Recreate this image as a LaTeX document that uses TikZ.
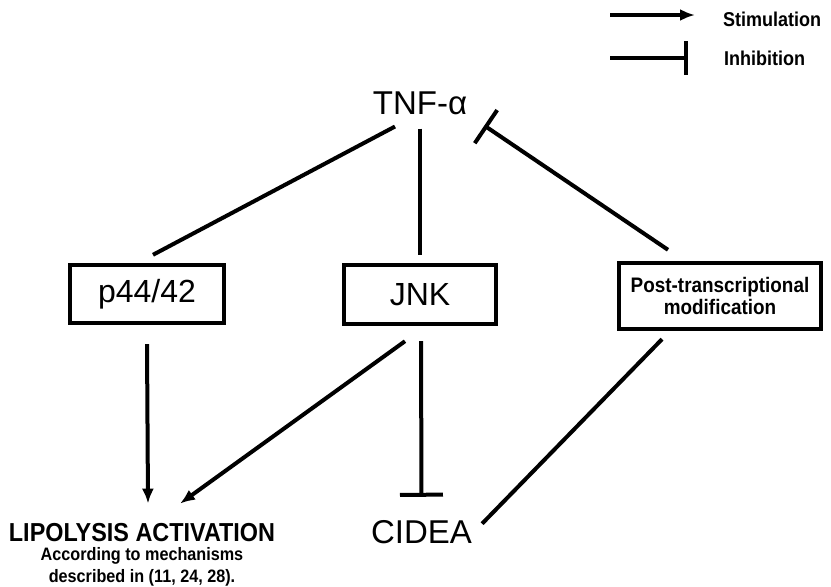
\documentclass[tikz,border=0pt]{standalone}
\usepackage{fontspec}
\setmainfont{Liberation Sans}
\newfontfamily\condfont[FakeStretch=0.9]{Liberation Sans}
\usetikzlibrary{arrows.meta,calc}
\begin{document}
\begin{tikzpicture}[x=1pt,y=-1pt,
  box/.style={draw, line width=4.4pt, inner sep=0pt, font=\fontsize{32}{34}\selectfont},
  lbl/.style={inner sep=0pt, anchor=base},
  link/.style={line width=4pt},
  stim/.style={link, -{Latex[length=15pt,width=12pt]}},
  inhib/.style={link, -{Bar[width=#1]}}]
\useasboundingbox (0,0) rectangle (831,587);

% legend
\node[lbl, anchor=base west, font=\condfont\bfseries\fontsize{20}{22}\selectfont] (stimtxt) at (723,26) {Stimulation};
\node[lbl, anchor=base west, font=\condfont\bfseries\fontsize{20}{22}\selectfont] (inhtxt) at (724,65) {Inhibition};
\coordinate (s0) at (610,15);
\coordinate (s1) at (695,15);
\coordinate (i0) at (610,58);
\coordinate (i1) at (688,58);
\draw[stim] (s0) -- (s1);
\draw[inhib=34pt] (i0) -- (i1);

% nodes
\node[lbl, font=\fontsize{33}{36}\selectfont] (tnf) at (420,114) {TNF-α};
\node[box, minimum width=154pt, minimum height=58pt] (p44) at (147,294) {p44/42};
\node[box, minimum width=152pt, minimum height=59pt] (jnk) at (420,294.5) {JNK};
\node[box, minimum width=202pt, minimum height=66pt, align=center,
      font=\condfont\bfseries\fontsize{21}{22}\selectfont] (post) at (720,296) {Post-transcriptional\\modification};
\node[lbl, font=\fontsize{33}{36}\selectfont] (cidea) at (421.5,543) {CIDEA};
\node[lbl, font=\condfont\bfseries\fontsize{26}{28}\selectfont] (lip) at (142,541) {LIPOLYSIS ACTIVATION};
\node[lbl, font=\condfont\bfseries\fontsize{18}{19}\selectfont] (acc) at (142,560) {According to mechanisms};
\node[lbl, font=\condfont\bfseries\fontsize{18}{19}\selectfont] (desc) at (142,582) {described in (11, 24, 28).};

% connectors
\draw[link] ([shift={(-25,12)}]tnf.south) -- ([shift={(6,-8)}]p44.north);
\draw[link] ([shift={(0,14)}]tnf.south) -- ([shift={(0,-8)}]jnk.north);
\draw[inhib=40pt] ([shift={(-52,-11)}]post.north) -- ([shift={(17,11)}]tnf.south east);
\draw[stim] ([shift={(0,19)}]p44.south) -- ([shift={(6,-19)}]lip.north);
\draw[stim] ([shift={(-15,15)}]jnk.south) -- ([shift={(38,-19)}]lip.north);
\draw[inhib=43pt] ([shift={(1,15)}]jnk.south) -- ([shift={(0,-23)}]cidea.north);
\draw[link] ([shift={(-58,8)}]post.south) -- ([shift={(10,-8)}]cidea.east);
\end{tikzpicture}
\end{document}
